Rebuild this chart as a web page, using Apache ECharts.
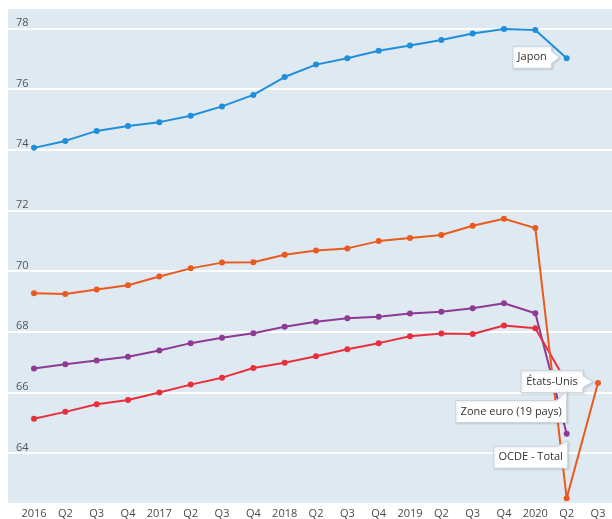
<!DOCTYPE html>
<html><head><meta charset="utf-8">
<script src="https://cdn.jsdelivr.net/npm/echarts@6/dist/echarts.min.js"></script>
<style>html,body{margin:0;padding:0;background:#fff}#c{width:612px;height:519px}</style>
</head><body><div id="c"></div><script>
const categories = ['2016','Q2','Q3','Q4','2017','Q2','Q3','Q4','2018','Q2','Q3','Q4','2019','Q2','Q3','Q4','2020','Q2','Q3'];
const japon     = [74.05,74.28,74.61,74.77,74.90,75.11,75.42,75.80,76.39,76.80,77.01,77.26,77.43,77.61,77.83,77.98,77.94,77.01];
const etatsUnis = [69.25,69.22,69.37,69.51,69.80,70.07,70.26,70.27,70.52,70.66,70.73,70.97,71.07,71.17,71.48,71.71,71.40,62.48,66.28];
const ocde      = [66.76,66.90,67.03,67.15,67.36,67.60,67.78,67.93,68.14,68.31,68.42,68.47,68.58,68.64,68.75,68.92,68.59,64.61];
const zoneEuro  = [65.10,65.33,65.58,65.72,65.97,66.23,66.46,66.78,66.95,67.17,67.40,67.60,67.83,67.92,67.90,68.18,68.09,66.30];
const seriesNames = ['OCDE - Total','Zone euro (19 pays)','États-Unis','Japon'];
const yMin = 62.32, yMax = 78.67;

const FONT = '"Open Sans", "Noto Sans", sans-serif';
const chart = echarts.init(document.getElementById('c'), null, {renderer:'canvas'});
const colors = ['#8e3a94','#e8303c','#ea5a1e','#1f8fdc'];
const dataSets = [ocde, zoneEuro, etatsUnis, japon];

chart.setOption({
  animation:false,
  grid:[
    {left:8, right:0, top:8, bottom:15, show:true, backgroundColor:'#dee9f2', borderWidth:0},
    {left:34, right:14, top:8, bottom:15}
  ],
  xAxis:[
    {gridIndex:0, type:'category', data:categories, show:false},
    {gridIndex:1, type:'category', data:categories, boundaryGap:false,
     axisLine:{show:false}, axisTick:{show:false},
     axisLabel:{color:'#4a4a4a', fontSize:11, fontFamily:FONT, margin:5, interval:0}}
  ],
  yAxis:[
    {gridIndex:0, type:'value', min:yMin, max:yMax, splitNumber:8,
     axisLine:{show:false}, axisTick:{show:false},
     splitLine:{show:true, lineStyle:{color:'#ffffff', width:2}},
     axisLabel:{inside:true, verticalAlign:'bottom', margin:8, color:'#555', fontSize:11, fontFamily:FONT,
       showMinLabel:false, showMaxLabel:false}},
    {gridIndex:1, type:'value', min:yMin, max:yMax, show:false, splitLine:{show:false}}
  ],
  series: dataSets.map((d,i)=>({
    name:seriesNames[i], type:'line', xAxisIndex:1, yAxisIndex:1, data:d,
    symbol:'circle', symbolSize:6, showSymbol:true,
    lineStyle:{color:colors[i], width:2}, itemStyle:{color:colors[i]}
  }))
});

// callout labels
const ctx = document.createElement('canvas').getContext('2d');
ctx.font = '11px ' + FONT;
const callouts = [
  {s:3, side:'left', gap:15, tipGap:7, dy:-1},
  {s:2, side:'left', gap:15, tipGap:5, dy:-1.5},
  {s:1, side:'below', dx:0, gap:18, tipGap:9},
  {s:0, side:'below', dx:1, gap:12.5, tipGap:7}
];
const g = [];
callouts.forEach(c=>{
  const d = dataSets[c.s];
  const p = chart.convertToPixel({seriesIndex:c.s}, [d.length-1, d[d.length-1]]);
  const text = seriesNames[c.s];
  const w = Math.round(ctx.measureText(text).width + 10), h = 22;
  let pts, cx, cy;
  if (c.side==='left'){
    const x1 = p[0]-c.gap, x0 = x1-w, yc = p[1]+c.dy, y0 = yc-h/2, y1 = yc+h/2;
    pts = [[x0,y0],[x1,y0],[x1,yc-6],[p[0]-c.tipGap,yc],[x1,yc+6],[x1,y1],[x0,y1]];
    cx = (x0+x1)/2; cy = yc;
  } else {
    const x1 = p[0]+c.dx, x0 = x1-w, y0 = p[1]+c.gap, y1 = y0+h;
    pts = [[x0,y0],[x1-10,y0],[x1,p[1]+c.tipGap],[x1,y1],[x0,y1]];
    cx = (x0+x1)/2; cy = (y0+y1)/2;
  }
  g.push({type:'polygon', shape:{points:pts}, z:100,
    style:{fill:'#ffffff', stroke:'#c8d5df', lineWidth:1, shadowBlur:2, shadowColor:'rgba(0,0,0,0.12)', shadowOffsetX:1, shadowOffsetY:1}});
  g.push({type:'text', z:101, style:{text:text, x:cx, y:cy, textAlign:'center', textVerticalAlign:'middle',
    font:'11px ' + FONT, fill:'#333'}});
});
chart.setOption({graphic:g});
</script></body></html>
